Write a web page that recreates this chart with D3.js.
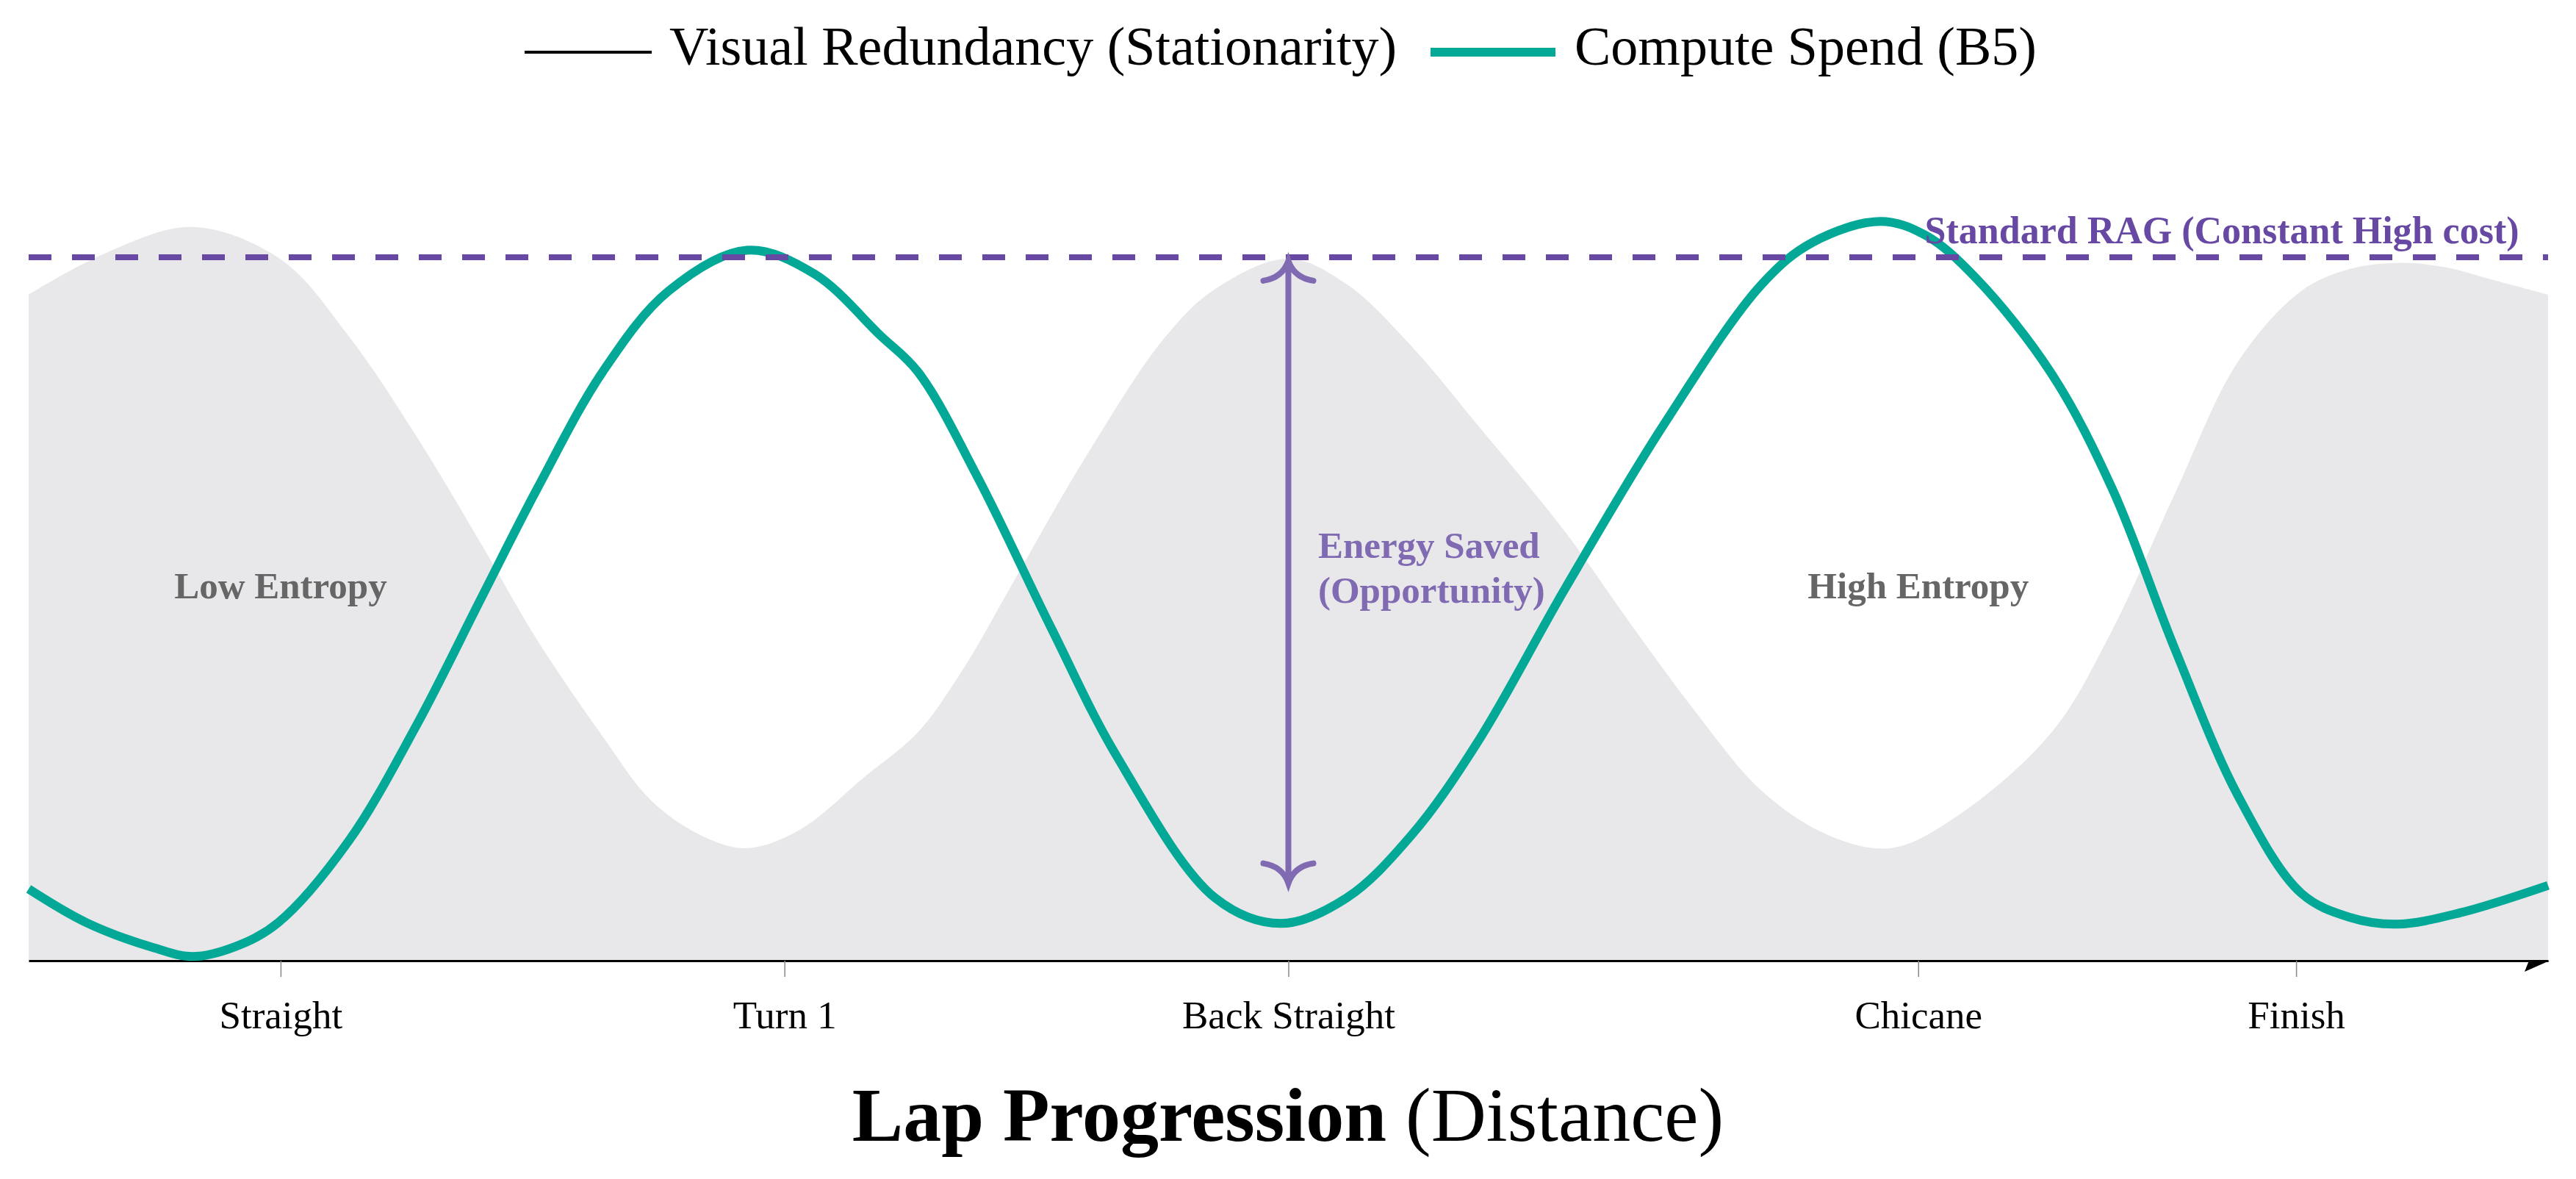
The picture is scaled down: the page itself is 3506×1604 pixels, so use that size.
<!DOCTYPE html>
<html>
<head>
<meta charset="utf-8">
<script src="https://cdn.jsdelivr.net/npm/d3@7"></script>
<style>
  html, body { margin: 0; padding: 0; background: #ffffff; }
  svg { display: block; }
  text { font-family: "Liberation Serif", "DejaVu Serif", serif; }
</style>
</head>
<body>
<svg id="chart" width="3506" height="1604"></svg>
<script>
// ---------- DATA ----------
// x: lap progression (0..10), y: normalised level (1.0 = Standard RAG cost)
const redundancyX = [0.00, 0.30, 0.65, 1.00, 1.27, 1.54, 1.80, 2.02, 2.28, 2.47, 2.67, 2.85, 3.06, 3.32, 3.53, 3.71, 3.90, 4.19, 4.51, 4.71, 5.00, 5.23, 5.49, 5.75, 6.10, 6.36, 6.62, 6.88, 7.14, 7.39, 7.66, 8.03, 8.26, 8.52, 8.77, 9.02, 9.21, 9.40, 9.59, 9.77, 10.00];
const redundancyY = [0.947, 1.005, 1.043, 0.997, 0.888, 0.745, 0.590, 0.455, 0.318, 0.228, 0.178, 0.160, 0.186, 0.262, 0.325, 0.415, 0.533, 0.713, 0.886, 0.955, 0.998, 0.962, 0.873, 0.762, 0.609, 0.478, 0.352, 0.241, 0.179, 0.160, 0.207, 0.325, 0.463, 0.665, 0.852, 0.952, 0.983, 0.992, 0.986, 0.969, 0.947];

const computeX = [0.00, 0.23, 0.50, 0.65, 0.82, 0.99, 1.27, 1.54, 1.80, 2.02, 2.28, 2.54, 2.85, 3.12, 3.38, 3.53, 3.77, 4.06, 4.32, 4.71, 4.97, 5.23, 5.49, 5.75, 6.10, 6.49, 6.88, 7.08, 7.35, 7.53, 7.73, 8.03, 8.27, 8.52, 8.77, 9.02, 9.21, 9.40, 9.65, 10.00];
const computeY = [0.102, 0.054, 0.018, 0.006, 0.020, 0.054, 0.170, 0.335, 0.518, 0.672, 0.838, 0.952, 1.010, 0.976, 0.889, 0.837, 0.685, 0.472, 0.290, 0.089, 0.053, 0.089, 0.179, 0.310, 0.530, 0.762, 0.962, 1.021, 1.051, 1.031, 0.970, 0.834, 0.671, 0.442, 0.234, 0.096, 0.062, 0.052, 0.068, 0.107];

const standardRagLevel = 1.0;

const tickValues = [1, 3, 5, 7.5, 9];
const tickLabels = ["Straight", "Turn 1", "Back Straight", "Chicane", "Finish"];

const legendLabels = ["Visual Redundancy (Stationarity)", "Compute Spend (B5)"];

const zoneLabels = ["Low Entropy", "High Entropy"];
const zoneX = [1, 7.5];
const zoneY = 0.515;

const savedLines = ["Energy Saved", "(Opportunity)"];
const savedArrowX = 5;
const savedArrowTop = 0.998;
const savedArrowBottom = 0.107;
const savedTextX = 5.118;
const savedTextY = [0.573, 0.509];

const ragLabel = "Standard RAG (Constant High cost)";
const ragLabelX = 9.885;
const ragLabelY = 1.020;

// ---------- LAYOUT ----------
const svg = d3.select("#chart");
const colors = { fill: "#e8e8eb", teal: "#03a996", rag: "#6749a3", saved: "#806bb3", zone: "#666666" };

const x = d3.scaleLinear().domain([0, 10]).range([39, 3468]);
const y = d3.scaleLinear().domain([0, 1]).range([1307, 350]);

const redundancy = redundancyX.map((v, i) => [v, redundancyY[i]]);
const compute = computeX.map((v, i) => [v, computeY[i]]);
const curve = d3.curveCatmullRom.alpha(0.5);

// axis arrow barb (partly hidden under the fill, as in reference)
svg.append("path")
  .attr("d", `M${x(10) + 2},${y(0)} L${x(10) - 32},${y(0) + 15} L${x(10) - 26},${y(0)} Z`)
  .attr("fill", "#000");

// redundancy area
const area = d3.area()
  .x(d => x(d[0])).y0(y(0)).y1(d => y(d[1]))
  .curve(curve);
svg.append("path").datum(redundancy)
  .attr("d", area).attr("fill", colors.fill);

// x axis
const xAxis = d3.axisBottom(x)
  .tickValues(tickValues)
  .tickFormat((d, i) => tickLabels[i])
  .tickSize(22).tickSizeOuter(0).tickPadding(32);
const gx = svg.append("g").attr("transform", `translate(0,${y(0)})`).call(xAxis);
gx.select(".domain").attr("stroke", "#000").attr("stroke-width", 3);
gx.selectAll(".tick line").attr("stroke", "#888").attr("stroke-width", 1.5);
gx.selectAll(".tick text")
  .attr("fill", "#000")
  .style("font-family", '"Liberation Serif", serif')
  .style("font-size", "53px");

// compute spend line
const line = d3.line().x(d => x(d[0])).y(d => y(d[1])).curve(curve);
svg.append("path").datum(compute)
  .attr("d", line).attr("fill", "none")
  .attr("stroke", colors.teal).attr("stroke-width", 12)
  .attr("stroke-linejoin", "round").attr("stroke-linecap", "butt");

// standard RAG dashed line
svg.append("line")
  .attr("x1", x(0)).attr("x2", x(10))
  .attr("y1", y(standardRagLevel)).attr("y2", y(standardRagLevel))
  .attr("stroke", colors.rag).attr("stroke-width", 8)
  .attr("stroke-dasharray", "31,28");

svg.append("text")
  .attr("x", x(ragLabelX)).attr("y", y(ragLabelY))
  .attr("text-anchor", "end")
  .attr("fill", colors.rag)
  .style("font-weight", "bold").style("font-size", "52px")
  .text(ragLabel);

// energy saved double arrow
const ax = x(savedArrowX), aTop = y(savedArrowTop), aBot = y(savedArrowBottom);
svg.append("line")
  .attr("x1", ax).attr("x2", ax).attr("y1", aTop + 4).attr("y2", aBot - 4)
  .attr("stroke", colors.saved).attr("stroke-width", 8);
const headW = 34, headL = 30;
svg.append("path")
  .attr("d", `M${ax - headW},${aTop + headL} Q${ax - 8},${aTop + 26} ${ax},${aTop + 3} Q${ax + 8},${aTop + 26} ${ax + headW},${aTop + headL}`)
  .attr("fill", "none").attr("stroke", colors.saved).attr("stroke-width", 8).attr("stroke-linecap", "round");
svg.append("path")
  .attr("d", `M${ax - headW},${aBot - headL} Q${ax - 8},${aBot - 26} ${ax},${aBot - 3} Q${ax + 8},${aBot - 26} ${ax + headW},${aBot - headL}`)
  .attr("fill", "none").attr("stroke", colors.saved).attr("stroke-width", 8).attr("stroke-linecap", "round");

svg.selectAll("text.saved").data(savedLines).enter().append("text")
  .attr("class", "saved")
  .attr("x", x(savedTextX)).attr("y", (d, i) => y(savedTextY[i]))
  .attr("fill", colors.saved)
  .style("font-weight", "bold").style("font-size", "51px")
  .text(d => d);

// zone labels
svg.selectAll("text.zone").data(zoneLabels).enter().append("text")
  .attr("class", "zone")
  .attr("x", (d, i) => x(zoneX[i])).attr("y", y(zoneY))
  .attr("text-anchor", "middle")
  .attr("fill", colors.zone)
  .style("font-weight", "bold").style("font-size", "51px")
  .text(d => d);

// x axis title
const title = svg.append("text")
  .attr("x", 1753).attr("y", 1552)
  .attr("text-anchor", "middle")
  .attr("fill", "#000")
  .style("font-size", "104px");
title.append("tspan").style("font-weight", "bold").text("Lap Progression");
title.append("tspan").text(" (Distance)");

// legend
const legendItems = [
  { label: legendLabels[0], color: "#000", width: 4, x0: 714, x1: 887, tx: 911 },
  { label: legendLabels[1], color: colors.teal, width: 12, x0: 1947, x1: 2117, tx: 2143 }
];
const lg = svg.append("g");
lg.selectAll("line").data(legendItems).enter().append("line")
  .attr("x1", d => d.x0).attr("x2", d => d.x1)
  .attr("y1", 71).attr("y2", 71)
  .attr("stroke", d => d.color).attr("stroke-width", d => d.width);
lg.selectAll("text").data(legendItems).enter().append("text")
  .attr("x", d => d.tx).attr("y", 88)
  .attr("fill", "#000")
  .style("font-size", "74px")
  .text(d => d.label);
</script>
</body>
</html>
